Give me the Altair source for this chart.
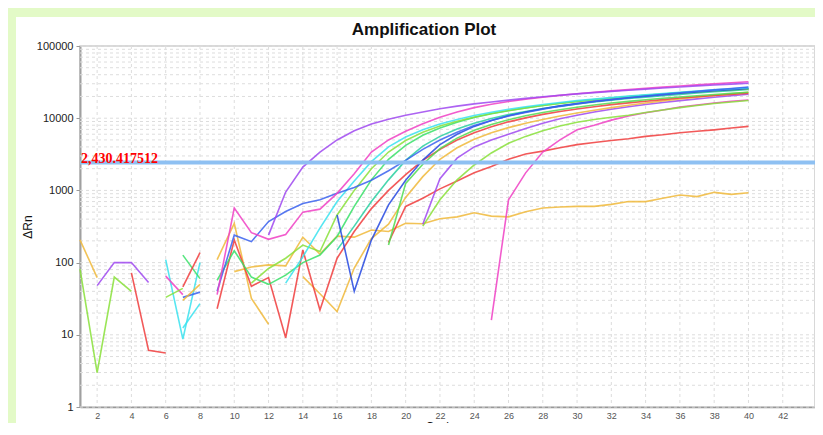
import altair as alt
import pandas as pd

# ---------------- data ----------------
TITLE = "Amplification Plot"
THRESHOLD = 2430.417512
THRESHOLD_LABEL = "2,430.417512"

# early / noisy segments
e01 = [206, 62]
e02 = [81, 3.0, 63, 40]
e03 = [48, 100, 100, 53]
e04 = [72, 6.1, 5.6]
e05 = [110, 8.7, 100]
e06 = [12.4, 27]
e07 = [65, 36]
e08 = [127, 60]
e09 = [33, 44]
e10 = [46, 137]
e11 = [33, 39]
e12 = [30, 50]
e13 = [110, 350, 32, 14]

# amplification curves
c01 = [240, 950, 2100, 3400, 5000, 6700, 8300, 9700, 11000, 12200, 13500, 14700, 15800,
       16800, 17800, 18800, 19800, 20800, 21700, 22600, 23500, 24400, 25300, 26200, 27100,
       28000, 28800, 29600, 30500]
c02 = [36, 570, 260, 210, 245, 500, 550, 910, 1700, 3400, 5000, 6600, 8400, 10300, 12200,
       14000, 15600, 17000, 18300, 19500, 20700, 21800, 22900, 23900, 24900, 25900, 26900,
       27900, 28900, 29900, 30900, 32000]
c03 = [40, 240, 195, 370, 510, 660, 740, 910, 1100, 1380, 1870, 2600, 3700, 5000, 6400, 7900,
       9300, 10700, 12000, 13300, 14600, 15800, 17000, 18100, 19200, 20300, 21400, 22500,
       23600, 24700, 25800, 27000]
c04 = [457, 40, 205, 630, 1380, 2630, 4300, 6000, 7700, 9300, 10800, 12200, 13500, 14800,
       16000, 17100, 18200, 19200, 20200, 21200, 22200, 23100, 24000, 24900, 25800]
c05 = [52, 120, 300, 700, 1350, 2500, 4000, 5500, 6900, 8300, 9600, 10900, 12100, 13300,
       14400, 15500, 16500, 17500, 18400, 19300, 20200, 21100, 22000, 22900, 23800, 24700,
       25600, 26500]
c06 = [57, 146, 63, 50, 67, 100, 127, 230, 600, 1400, 2700, 4200, 5800, 7300, 8800, 10200,
       11500, 12700, 13900, 15000, 16100, 17100, 18100, 19000, 19900, 20800, 21600, 22400,
       23200, 24000, 24800, 25600]
c07 = [52, 83, 115, 175, 142, 456, 1000, 2000, 3400, 4900, 6400, 7800, 9100, 10400, 11600,
       12800, 13900, 15000, 16000, 17000, 18000, 18900, 19800, 20700, 21600, 22400, 23200,
       24000, 24800, 25500]
c08 = [23, 206, 47, 62, 9.1, 150, 22, 115, 270, 560, 1000, 1650, 2600, 3700, 5000, 6300,
       7600, 8900, 10100, 11300, 12400, 13400, 14400, 15400, 16300, 17200, 18100, 19000,
       19800, 20600, 21400, 22200]
c09 = [64, 37, 21, 84, 215, 340, 800, 1550, 2700, 3900, 5100, 6300, 7400, 8500, 9600, 10700,
       11800, 12900, 14000, 15100, 16200, 17300, 18400, 19500, 20600, 21700, 22800]
c10 = [190, 600, 780, 1050, 1350, 1750, 2150, 2700, 3200, 3500, 3900, 4300, 4600, 4900, 5200,
       5600, 5900, 6300, 6600, 6900, 7300, 7700]
c11 = [175, 1250, 2300, 3800, 5300, 6800, 8200, 9500, 10800, 12000, 13100, 14200, 15200,
       16200, 17100, 18000, 18900, 19700, 20500, 21300, 22100, 22900]
c12 = [340, 1450, 2800, 4000, 5000, 6000, 7200, 8500, 9800, 11000, 12200, 13300, 14400,
       15500, 16500, 17500, 18500, 19500, 20500, 21500]
c13 = [320, 740, 1400, 2250, 3300, 4500, 5600, 6700, 7800, 8800, 9600, 10300, 11000, 12000,
       13000, 14000, 15000, 16000, 16800, 17600]
c14 = [16, 740, 1750, 3400, 5000, 6900, 8000, 9400, 10700, 11900, 13000, 14300, 15200, 16200,
       17200, 17900]
c15 = [75, 87, 93, 90, 225, 131, 233, 225, 283, 270, 350, 345, 405, 430, 490, 440, 430, 505,
       570, 590, 600, 600, 640, 700, 700, 780, 864, 820, 940, 880, 930]
c16 = [150, 320, 700, 1400, 2600, 4100, 5600, 7100, 8500, 9900, 11200, 12400, 13600, 14700,
       15800, 16800, 17800, 18700, 19600, 20500, 21400, 22300, 23200, 24100, 25000]

RED, GOLD, LIME, GREEN = "#f03c3c", "#f0b83a", "#88e03a", "#38e068"
CYAN, BLUE, PURPLE, MAGENTA = "#38e2ee", "#3a62ee", "#9f48f0", "#f040c4"
DBLUE, TEAL, GREEN2 = "#2448e0", "#28cfa0", "#50dc50"

series = [
    ("e01", 1, e01, GOLD), ("e02", 1, e02, LIME), ("e03", 2, e03, PURPLE),
    ("e04", 4, e04, RED), ("e05", 6, e05, CYAN), ("e06", 7, e06, CYAN),
    ("e07", 6, e07, MAGENTA), ("e08", 7, e08, GREEN), ("e09", 6, e09, LIME),
    ("e10", 7, e10, RED), ("e11", 7, e11, BLUE), ("e12", 7, e12, GOLD),
    ("e13", 9, e13, GOLD),
    ("c15", 10, c15, GOLD), ("c10", 19, c10, RED), ("c14", 25, c14, MAGENTA),
    ("c13", 21, c13, LIME), ("c12", 21, c12, PURPLE), ("c09", 14, c09, GOLD),
    ("c08", 9, c08, RED), ("c11", 19, c11, GREEN2), ("c16", 16, c16, TEAL),
    ("c06", 9, c06, GREEN), ("c07", 11, c07, LIME), ("c04", 16, c04, DBLUE),
    ("c05", 13, c05, CYAN), ("c03", 9, c03, BLUE), ("c02", 9, c02, MAGENTA),
    ("c01", 12, c01, PURPLE),
]

x_ticks = list(range(2, 45, 2))
y_ticks = [1, 10, 100, 1000, 10000, 100000]
y_grid = [m * 10 ** k for k in range(5) for m in range(1, 10)] + [100000]

rows = []
for name, start, vals, _ in series:
    for i, v in enumerate(vals):
        rows.append({"series": name, "cycle": start + i, "value": v})
df = pd.DataFrame(rows)

names = [s[0] for s in series]
colors = [s[3] for s in series]

# ---------------- layout ----------------
W, H = 735, 361
PX = 17.14  # pixels per cycle
XMAX = 1 + W / PX
BG = "#e3fac7"

xscale = alt.Scale(domain=[1, XMAX], nice=False, zero=False)
yscale = alt.Scale(type="log", domain=[1, 100000], nice=False)

x_axis = alt.Axis(values=x_ticks, grid=False, ticks=False, labelPadding=4, labelFontSize=9,
                  labelColor="#555555", labelFlush=False, domainColor="#999999", domainWidth=1.5,
                  title="Cycle", titleFontSize=12, titleFontWeight="normal", titleColor="#111111",
                  titleX=360, titlePadding=1)
y_axis = alt.Axis(values=y_ticks, format="d", grid=False, tickSize=4, tickColor="#999999",
                  labelFontSize=11, labelColor="#222222", labelPadding=3, labelOverlap=False,
                  domainColor="#a0a0a0", domainWidth=2, title="ΔRn", titleFontSize=12,
                  titleFontWeight="normal", titleColor="#111111", titleX=-46, titleY=H / 2,
                  titleBaseline="bottom", titleAngle=270)

X = alt.X("cycle:Q", scale=xscale, axis=x_axis)
Y = alt.Y("value:Q", scale=yscale, axis=y_axis)

ygrid_df = pd.DataFrame({"value": y_grid})
xgrid_df = pd.DataFrame({"cycle": x_ticks})
thr_df = pd.DataFrame({"cycle": [1], "value": [THRESHOLD], "label": [THRESHOLD_LABEL]})
title_df = pd.DataFrame({"t": [TITLE]})
one = pd.DataFrame({"a": [0]})

ygrid = alt.Chart(ygrid_df).mark_rule(color="#dddddd", strokeDash=[3, 3], strokeWidth=1).encode(y=Y)
xgrid = alt.Chart(xgrid_df).mark_rule(color="#dddddd", strokeDash=[3, 3], strokeWidth=1).encode(x=X)

lines = alt.Chart(df).mark_line(strokeWidth=1.6, opacity=0.85).encode(
    x=X, y=Y,
    detail="series:N",
    color=alt.Color("series:N", scale=alt.Scale(domain=names, range=colors), legend=None),
    order="cycle:Q",
)

thr_rule = alt.Chart(thr_df).mark_rule(color="#8ec0f2", strokeWidth=4).encode(y=Y)
thr_text = alt.Chart(thr_df).mark_text(align="left", baseline="alphabetic", dx=1, dy=0,
                                        font="Liberation Serif", fontWeight="bold",
                                        fontSize=14, color="#ff0000").encode(x=X, y=Y, text="label:N")

top_strip = alt.Chart(one).mark_rect(color=BG).encode(
    x=alt.value(-72), x2=alt.value(W + 10), y=alt.value(-38), y2=alt.value(-29))
left_strip = alt.Chart(one).mark_rect(color=BG).encode(
    x=alt.value(-72), x2=alt.value(-64), y=alt.value(-38), y2=alt.value(H + 60))

title_mark = alt.Chart(title_df).mark_text(align="center", baseline="alphabetic", fontSize=17,
                                           font="Liberation Sans", fontWeight="bold",
                                           color="#111111").encode(
    x=alt.value(344), y=alt.value(-11), text="t:N")

chart = alt.layer(ygrid, xgrid, lines, thr_rule, thr_text, top_strip, left_strip,
                  title_mark).properties(
    width=W, height=H,
    padding={"left": 72, "top": 38, "right": 0, "bottom": 16},
    autosize=alt.AutoSizeParams(type="none"),
    background="white",
).configure(font="Liberation Sans").configure_view(stroke="#cccccc", strokeWidth=1.5)

chart.save("out.html", embed_options={"renderer": "svg", "actions": False})
